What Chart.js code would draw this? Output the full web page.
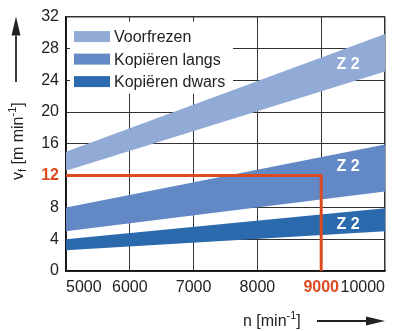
<!DOCTYPE html>
<html lang="nl">
<head>
  <meta charset="UTF-8">
  <title>Voeding vs toerental</title>
  <script src="https://cdn.jsdelivr.net/npm/chart.js"></script>
  <style>
    body { margin: 0; background: #fff; }
    canvas { display: block; }
  </style>
</head>
<body>
  <canvas id="chart" width="395" height="331"></canvas>
  <script>
    // spindle speed n [min^-1] at both ends of the bands
    const nValues = [5000, 10000];
    // feed rate vf [m/min], upper and lower edge of each band
    const voorfrezenHigh = [15.0, 29.8];
    const voorfrezenLow = [12.6, 25.1];
    const langsHigh = [8.0, 15.9];
    const langsLow = [5.0, 10.0];
    const dwarsHigh = [4.0, 7.9];
    const dwarsLow = [2.6, 5.0];
    const bandNames = ['Voorfrezen', 'Kopiëren langs', 'Kopiëren dwars'];
    const bandColors = ['#91aad6', '#6289c5', '#2b6aad'];
    // read-off example: 9000 min^-1 -> 12 m/min
    const exampleN = [5000, 9000, 9000];
    const exampleVf = [12, 12, 0];
    // "Z 2" labels (data coords)
    const zLabelN = [9420, 9420, 9420];
    const zLabelVf = [26.0, 13.1, 5.9];

    const FONT = '"Liberation Sans", Arial, sans-serif';
    const RED = '#dc4a20';
    const INK = '#222';

    function pts(xs, ys) { return xs.map((x, i) => ({ x, y: ys[i] })); }

    const bands = [[voorfrezenHigh, voorfrezenLow], [langsHigh, langsLow], [dwarsHigh, dwarsLow]];
    const datasets = [];
    bands.forEach((b, i) => {
      datasets.push({
        label: bandNames[i], data: pts(nValues, b[0]), fill: '+1',
        backgroundColor: bandColors[i], borderWidth: 0, pointRadius: 0
      });
      datasets.push({
        label: bandNames[i] + ' min', data: pts(nValues, b[1]), fill: false,
        backgroundColor: bandColors[i], borderWidth: 0, pointRadius: 0
      });
    });
    // lowest order is drawn last, so the red line sits on top of the bands
    datasets.push({
      label: 'voorbeeld', data: pts(exampleN, exampleVf), fill: false, order: -1,
      borderColor: RED, borderWidth: 3, pointRadius: 0, borderJoinStyle: 'miter'
    });

    function arrow(ctx, x1, y1, x2, y2) {
      const ang = Math.atan2(y2 - y1, x2 - x1);
      const len = 19, half = 4.5;
      ctx.save();
      ctx.strokeStyle = INK; ctx.fillStyle = INK; ctx.lineWidth = 1.8;
      ctx.beginPath();
      ctx.moveTo(x1, y1);
      ctx.lineTo(x2 - Math.cos(ang) * len, y2 - Math.sin(ang) * len);
      ctx.stroke();
      ctx.translate(x2, y2); ctx.rotate(ang);
      ctx.beginPath();
      ctx.moveTo(0, 0); ctx.lineTo(-len, -half); ctx.lineTo(-len, half); ctx.closePath();
      ctx.fill();
      ctx.restore();
    }

    // draws text runs with sub/superscripts, starting at (0,0) baseline
    function richText(ctx, parts) {
      let x = 0;
      parts.forEach(p => {
        ctx.font = (p.size || 16) + 'px ' + FONT;
        ctx.fillText(p.t, x, p.dy || 0);
        x += ctx.measureText(p.t).width;
      });
    }

    const overlay = {
      id: 'overlay',
      beforeDatasetsDraw(chart) {
        const { ctx, chartArea: a } = chart;
        ctx.save();
        ctx.fillStyle = '#fff';
        ctx.fillRect(a.left + 4, a.top + 5, 163, 72);
        ctx.font = '16px ' + FONT;
        ctx.textBaseline = 'middle';
        bandNames.forEach((name, i) => {
          const cy = a.top + 20 + i * 22.5;
          ctx.fillStyle = bandColors[i];
          ctx.fillRect(a.left + 8, cy - 5.5, 36, 11);
          ctx.fillStyle = INK;
          ctx.fillText(name, a.left + 48, cy + 1);
        });
        ctx.restore();
      },
      afterDatasetsDraw(chart) {
        const { ctx, scales } = chart;
        ctx.save();
        ctx.fillStyle = '#fff';
        ctx.font = 'bold 16px ' + FONT;
        ctx.textAlign = 'center';
        ctx.textBaseline = 'middle';
        zLabelN.forEach((n, i) => {
          ctx.fillText('Z 2', scales.x.getPixelForValue(n), scales.y.getPixelForValue(zLabelVf[i]));
        });
        ctx.restore();
      },
      afterDraw(chart) {
        const { ctx, chartArea: a } = chart;
        ctx.save();
        ctx.fillStyle = INK;
        ctx.textBaseline = 'alphabetic';
        // y title, rotated
        ctx.save();
        ctx.translate(23, 180);
        ctx.rotate(-Math.PI / 2);
        richText(ctx, [
          { t: 'v' }, { t: 'f', size: 11, dy: 3 }, { t: ' [m min' }, { t: '-1', size: 11, dy: -7 }, { t: ']' }
        ]);
        ctx.restore();
        arrow(ctx, 16, 82, 16, a.top);
        // x title
        ctx.save();
        ctx.translate(243, 326);
        richText(ctx, [
          { t: 'n [min' }, { t: '-1', size: 11, dy: -7 }, { t: ']' }
        ]);
        ctx.restore();
        arrow(ctx, 317, 321, a.right, 321);
        ctx.restore();
      }
    };

    new Chart(document.getElementById('chart'), {
      type: 'line',
      data: { datasets },
      plugins: [overlay],
      options: {
        responsive: false,
        animation: false,
        layout: { padding: { top: 15, right: 10, left: 0, bottom: 0 } },
        plugins: { legend: { display: false }, tooltip: { enabled: false } },
        scales: {
          x: {
            type: 'linear', min: 5000, max: 10000,
            afterFit: s => { s.height = 60; },
            border: { color: '#111', width: 1.5 },
            grid: {
              color: '#333', drawTicks: false,
              lineWidth: c => (c.tick && c.tick.value === 10000 ? 1.5 : 1)
            },
            ticks: {
              stepSize: 1000, align: 'inner', padding: 7, maxRotation: 0,
              callback: v => String(v),
              color: c => (c.tick && c.tick.value === 9000 ? RED : INK),
              font: c => ({ family: FONT, size: 16, weight: c.tick && c.tick.value === 9000 ? 'bold' : 'normal' })
            }
          },
          y: {
            min: 0, max: 32,
            afterFit: s => { s.width = 66; },
            border: { color: '#111', width: 1.5 },
            grid: {
              color: '#333', drawTicks: false,
              lineWidth: c => (c.tick && c.tick.value === 32 ? 1.5 : 1)
            },
            ticks: {
              stepSize: 4, padding: 7,
              color: c => (c.tick && c.tick.value === 12 ? RED : INK),
              font: c => ({ family: FONT, size: 16, weight: c.tick && c.tick.value === 12 ? 'bold' : 'normal' })
            }
          }
        }
      }
    });
  </script>
</body>
</html>
